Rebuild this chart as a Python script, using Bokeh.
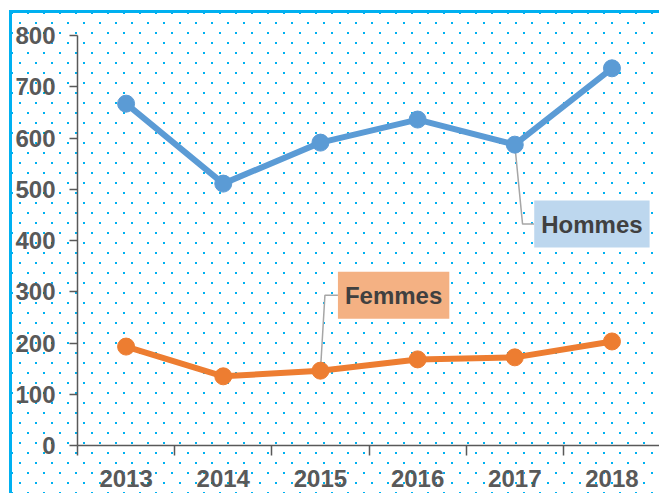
from bokeh.plotting import figure
from bokeh.models import FixedTicker, Label, Range1d
from bokeh.embed import file_html
from bokeh.resources import INLINE

years = ["2013", "2014", "2015", "2016", "2017", "2018"]
hommes = [667, 511, 591, 636, 587, 736]
femmes = [193, 135, 146, 168, 172, 203]
y_ticks = [0, 100, 200, 300, 400, 500, 600, 700, 800]

xs = list(range(len(years)))
FONT = "Liberation Sans"
AXIS_COLOR = "#595959"
BLUE = "#5B9BD5"
ORANGE = "#ED7D31"

p = figure(width=650, height=483, output_backend="svg", toolbar_location=None,
           x_range=Range1d(-0.5, 5.52), y_range=Range1d(0, 800),
           min_border_left=61, min_border_right=0, min_border_top=22, min_border_bottom=51,
           background_fill_alpha=0, border_fill_alpha=0, outline_line_color=None,
           styles={
               "border-top": "3px solid #00B0F0",
               "border-left": "3px solid #00B0F0",
               "margin-top": "10px",
               "margin-left": "9px",
               "background-color": "white",
               "background-image": "radial-gradient(circle at center, #00B0F0 0.9px, transparent 1.5px), radial-gradient(circle at center, #00B0F0 0.9px, transparent 1.5px)",
               "background-size": "16px 20px",
               "background-position": "0px 0px, 8px 10px",
           })

p.xgrid.visible = False
p.ygrid.visible = False

# x axis
p.xaxis.ticker = FixedTicker(ticks=xs, minor_ticks=[i - 0.5 for i in range(len(years) + 1)])
p.xaxis.major_label_overrides = {i: y for i, y in enumerate(years)}
p.xaxis.major_tick_line_color = None
p.xaxis.major_tick_out = 10
p.xaxis.major_tick_in = 0
p.xaxis.minor_tick_out = 10
p.xaxis.minor_tick_in = 0
p.xaxis.minor_tick_line_color = AXIS_COLOR
p.xaxis.minor_tick_line_width = 1.5
p.xaxis.major_label_standoff = 14

# y axis
p.yaxis.ticker = FixedTicker(ticks=y_ticks)
p.yaxis.major_tick_out = 8
p.yaxis.major_tick_in = 0
p.yaxis.minor_tick_line_color = None
p.yaxis.major_label_standoff = 14

for ax in (p.xaxis, p.yaxis):
    ax.axis_line_color = AXIS_COLOR
    ax.axis_line_width = 1.5
    ax.major_tick_line_width = 1.5
    ax.major_label_text_font = FONT
    ax.major_label_text_font_size = "24px"
    ax.major_label_text_font_style = "bold"
    ax.major_label_text_color = AXIS_COLOR
p.yaxis.major_tick_line_color = AXIS_COLOR

# leader lines
hx, hy = 4.20, 432
fx, fy = 2.18, 293
p.line([xs[4], 4.08, hx], [hommes[4], hy, hy], line_color="#A6A6A6", line_width=1.5)
p.line([xs[2], 2.046, fx], [femmes[2], fy, fy], line_color="#A6A6A6", line_width=1.5)

# series
p.line(xs, hommes, line_color=BLUE, line_width=6)
p.scatter(xs, hommes, size=17, fill_color=BLUE, line_color=BLUE)
p.line(xs, femmes, line_color=ORANGE, line_width=6)
p.scatter(xs, femmes, size=17, fill_color=ORANGE, line_color=ORANGE)

for x, y, txt, fill in [(hx, hy, "Hommes", "#BDD7EE"), (fx, fy, "Femmes", "#F4B183")]:
    p.add_layout(Label(x=x, y=y, text=txt, text_align="left", text_baseline="middle",
                       text_font=FONT, text_font_size="24px", text_font_style="bold",
                       text_color="#404040", background_fill_color=fill,
                       padding=dict(left=7, right=7, top=10, bottom=10)))

open("out.html", "w").write(file_html(p, INLINE))
